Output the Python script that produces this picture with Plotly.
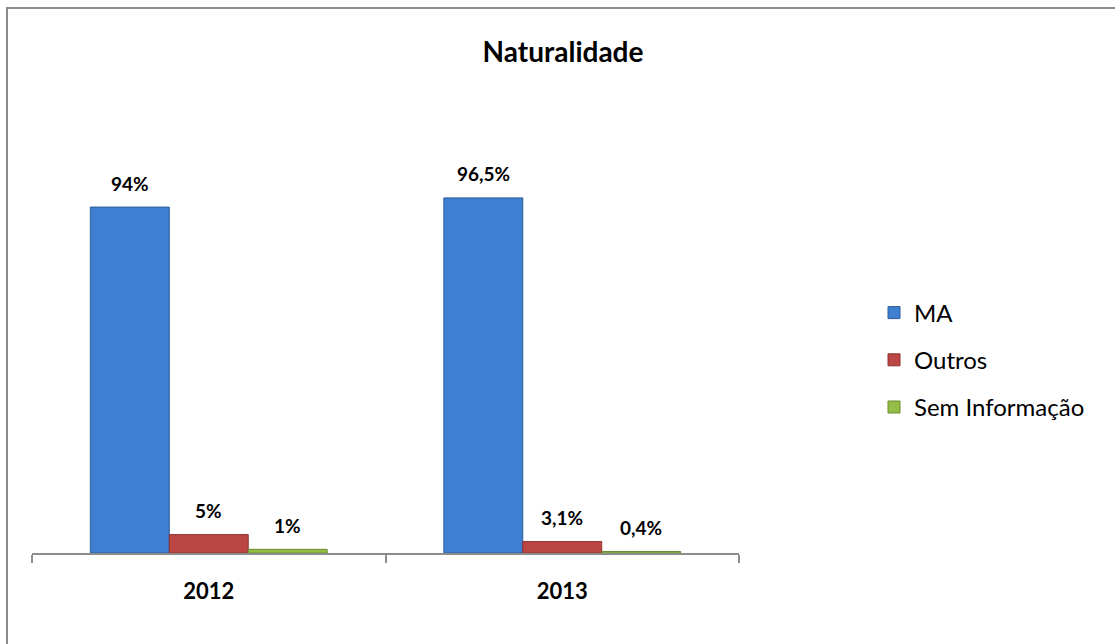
import plotly.graph_objects as go

years = ["2012", "2013"]
series_names = ["MA", "Outros", "Sem Informação"]
ma_values = [94.0, 96.5]
outros_values = [5.0, 3.1]
sem_info_values = [1.0, 0.4]
ma_labels = ["94%", "96,5%"]
outros_labels = ["5%", "3,1%"]
sem_info_labels = ["1%", "0,4%"]

series_values = [ma_values, outros_values, sem_info_values]
series_labels = [ma_labels, outros_labels, sem_info_labels]
fill_colors = ["#3f7fd2", "#bb4643", "#93bd45"]
line_colors = ["#2d5c99", "#8c3331", "#6c8c30"]

W, H = 1115, 644
ML, MR, MT, MB = 32, 376, 100, 91
PW, PH = W - ML - MR, H - MT - MB
FONT = "Lato, Carlito, Calibri, sans-serif"

fig = go.Figure()
for i, name in enumerate(series_names):
    fig.add_trace(go.Bar(
        x=years, y=series_values[i], name=name, legendgroup=name,
        marker=dict(color=fill_colors[i], line=dict(color=line_colors[i], width=1)),
    ))

BARGAP = 0.33
for i in range(3):
    for j, yr in enumerate(years):
        fig.add_annotation(
            x=j + (i - 1) * (1 - BARGAP) / 3, y=series_values[i][j],
            text="<b>" + series_labels[i][j] + "</b>",
            showarrow=False, yshift=24,
            font=dict(family=FONT, size=19, color="#000"),
        )

def px2paper_x(px):
    return (px - ML) / PW

def px2paper_y(py):
    return (H - MB - py) / PH

fig.add_shape(type="rect", xref="paper", yref="paper",
              x0=px2paper_x(7), x1=px2paper_x(1125), y0=px2paper_y(660), y1=px2paper_y(8),
              line=dict(color="#8c8c8c", width=2), fillcolor="rgba(0,0,0,0)", layer="below")

fig.update_layout(
    width=W, height=H,
    margin=dict(l=ML, r=MR, t=MT, b=MB),
    paper_bgcolor="white", plot_bgcolor="white",
    barmode="group", bargap=BARGAP, bargroupgap=0,
    title=dict(text="<b>Naturalidade</b>", x=563 / W, xanchor="center",
               y=1 - 52 / H, yanchor="middle",
               font=dict(family=FONT, size=28, color="#000")),
    legend=dict(x=px2paper_x(874), xanchor="left", y=px2paper_y(360), yanchor="middle",
                font=dict(family=FONT, size=24, color="#000"),
                tracegroupgap=13, bgcolor="rgba(0,0,0,0)"),
    showlegend=True,
    xaxis=dict(type="category", range=[-0.5, len(years) - 0.5],
               showline=True, linecolor="#8c8c8c", linewidth=1.5,
               ticks="outside", tickson="boundaries", ticklen=8, tickcolor="#8c8c8c",
               tickwidth=1.5, ticklabelstandoff=18, tickangle=0,
               tickfont=dict(family=FONT, size=22, color="#000"),
               tickprefix="<b>", ticksuffix="</b>"),
    yaxis=dict(range=[0, PH / 3.68], visible=False, showgrid=False, zeroline=False),
)

fig.write_html("out.html", config={"displayModeBar": False},
               post_script="document.body.style.margin='0';")
